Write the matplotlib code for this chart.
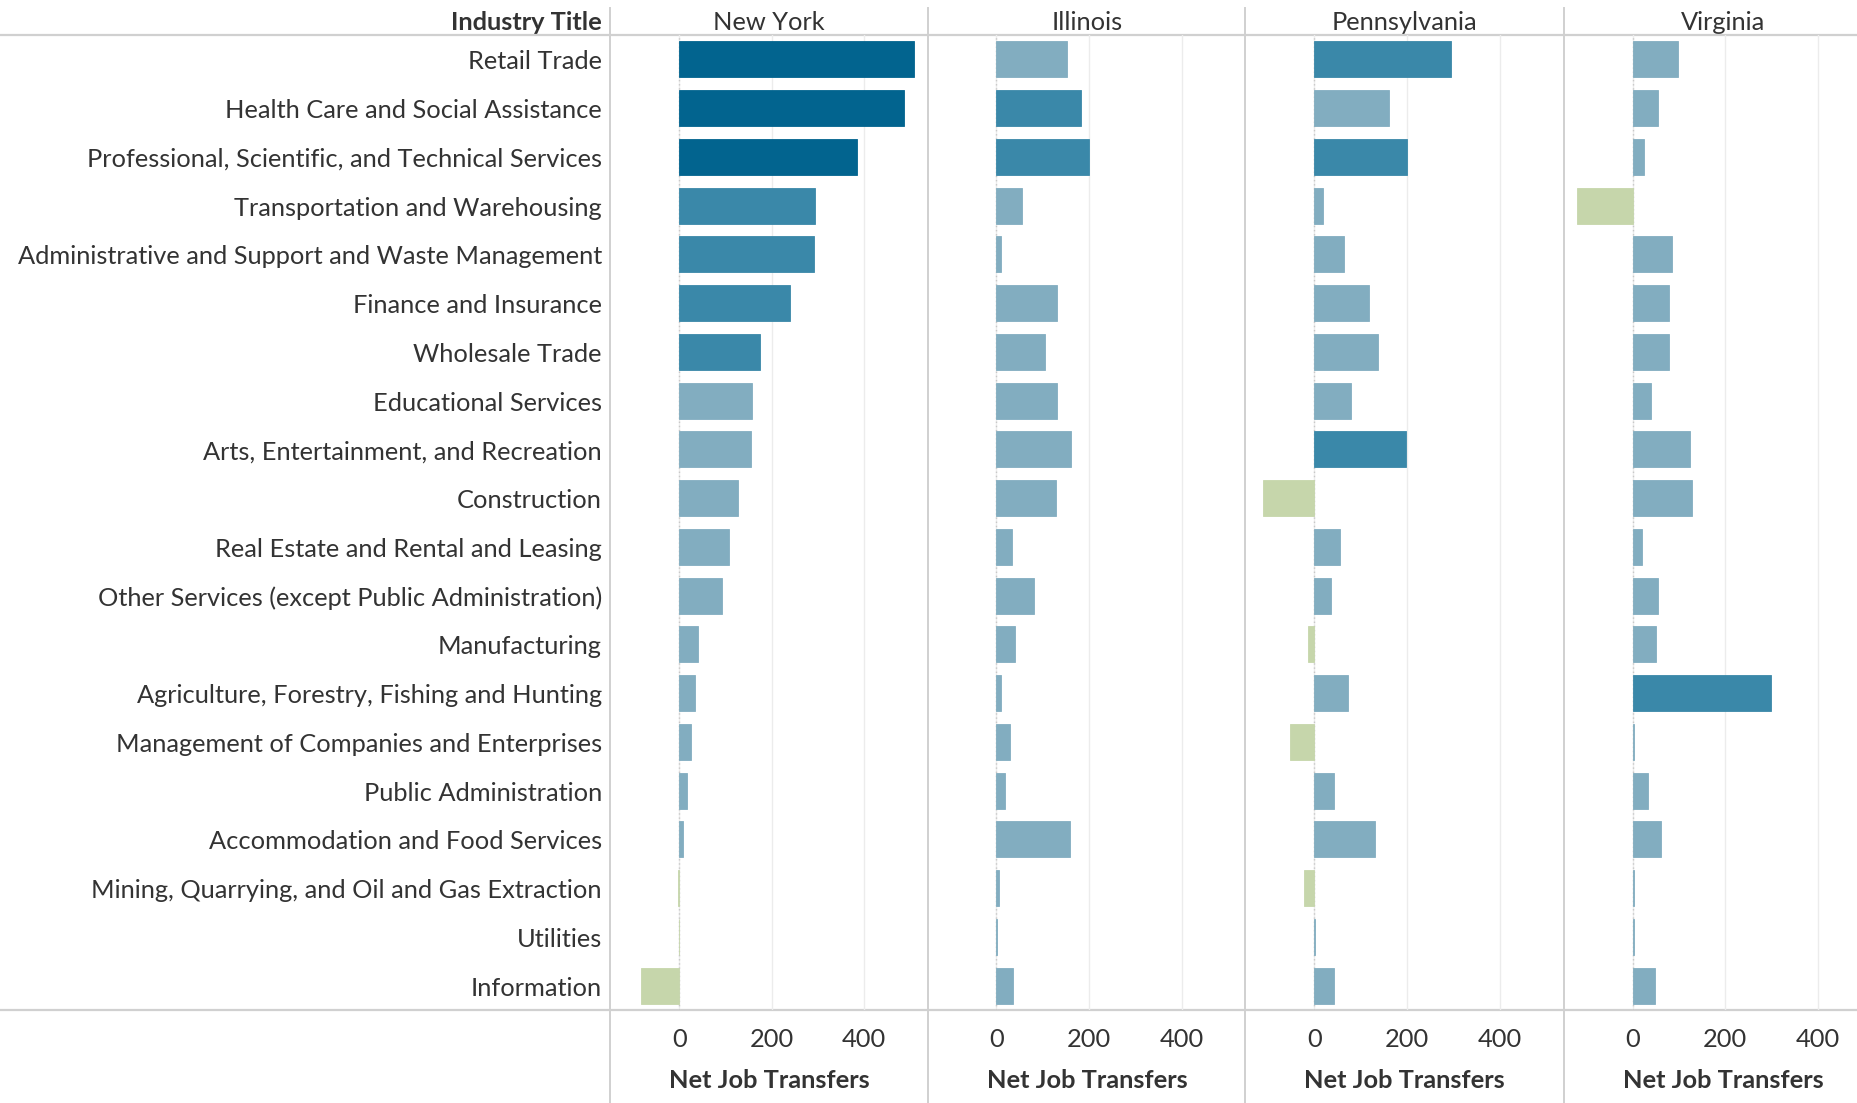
import matplotlib
matplotlib.use("Agg")
import matplotlib.pyplot as plt
from matplotlib.lines import Line2D

plt.rcParams['font.family'] = ['Lato', 'DejaVu Sans']

industries = [
    "Retail Trade",
    "Health Care and Social Assistance",
    "Professional, Scientific, and Technical Services",
    "Transportation and Warehousing",
    "Administrative and Support and Waste Management",
    "Finance and Insurance",
    "Wholesale Trade",
    "Educational Services",
    "Arts, Entertainment, and Recreation",
    "Construction",
    "Real Estate and Rental and Leasing",
    "Other Services (except Public Administration)",
    "Manufacturing",
    "Agriculture, Forestry, Fishing and Hunting",
    "Management of Companies and Enterprises",
    "Public Administration",
    "Accommodation and Food Services",
    "Mining, Quarrying, and Oil and Gas Extraction",
    "Utilities",
    "Information",
]

states = ["New York", "Illinois", "Pennsylvania", "Virginia"]

new_york = [507, 486, 385, 294, 291, 239, 175, 157, 154, 126,
            108, 92, 41, 34, 26, 17, 8, -2, -1, -83]
illinois = [152, 183, 199, 55, 9, 131, 104, 131, 161, 128,
            33, 82, 40, 9, 30, 18, 159, 5, 2, 35]
pennsylvania = [295, 161, 200, 18, 63, 118, 137, 79, 197, -110,
                55, 36, -13, 73, -52, 43, 131, -22, 2, 43]
virginia = [97, 54, 24, -121, 85, 79, 79, 39, 124, 128,
            20, 54, 51, 299, 2, 33, 61, 2, 2, 48]

series = [new_york, illinois, pennsylvania, virginia]
tick_values = [0, 200, 400]
axis_title = "Net Job Transfers"
row_header = "Industry Title"


def bar_color(v):
    if v < 0:
        return "#c6d6ab"
    if v < 170:
        return "#82adc0"
    if v < 340:
        return "#3a88a9"
    return "#02648f"


W, H = 1858, 1103
fig = plt.figure(figsize=(W / 100, H / 100), dpi=100)


def fx(x):
    return x / W


def fy(y):
    return 1 - y / H


top_y, bot_y = 35, 1010
panel_edges = [610, 928, 1245, 1564, 1858]
panel_w = 318
xlims = [(-150, 538), (-148, 537), (-149, 537), (-149, 487)]
text_color = "#333333"
line_color = "#d0d0d0"
label_fs = 18.3

bg = fig.add_axes([0, 0, 1, 1])
bg.set_xlim(0, W)
bg.set_ylim(H, 0)
bg.axis("off")
bg.add_line(Line2D([0, W], [top_y, top_y], color=line_color, lw=1.6, zorder=5))
bg.add_line(Line2D([0, W], [bot_y, bot_y], color=line_color, lw=1.6, zorder=5))
for xe in panel_edges[:-1]:
    bg.add_line(Line2D([xe, xe], [8, H], color=line_color, lw=1.4, zorder=5))

bg.text(602, 23, row_header, ha="right", va="center", fontsize=label_fs,
        fontweight="bold", color=text_color)

n = len(industries)
row_h = (bot_y - top_y) / n
for i, name in enumerate(industries):
    bg.text(602, top_y + row_h * (i + 0.5) + 2.5, name, ha="right",
            va="center", fontsize=label_fs, color=text_color)

for k, (state, vals) in enumerate(zip(states, series)):
    x0, x1 = panel_edges[k], panel_edges[k + 1]
    ax = fig.add_axes([fx(x0), fy(bot_y), fx(x1 - x0), (bot_y - top_y) / H])
    ax.set_zorder(2)
    ax.patch.set_alpha(0)
    ax.set_xlim(*xlims[k])
    ax.set_ylim(n - 0.5, -0.5)
    for t in tick_values:
        ax.axvline(t, color="#ececec", lw=1.0, zorder=0)
    ax.axvline(0, color="#c8c8c8", lw=1.0, ls=(0, (1, 2)), zorder=0.5)
    cols = [bar_color(v) for v in vals]
    ax.barh(range(n), vals, height=0.74, color=cols,
            edgecolor=cols, linewidth=0.6, zorder=2)
    ax.set_xticks(tick_values)
    ax.set_xticklabels([str(t) for t in tick_values], fontsize=label_fs,
                       color=text_color)
    ax.tick_params(axis="x", length=0, pad=13)
    ax.set_yticks([])
    for s in ax.spines.values():
        s.set_visible(False)
    cx = x0 + panel_w / 2
    bg.text(cx, 23, state, ha="center", va="center", fontsize=label_fs,
            color=text_color)
    bg.text(cx, 1081, axis_title, ha="center", va="center", fontsize=label_fs,
            fontweight="bold", color=text_color)

fig.savefig("out.png", dpi=100)
